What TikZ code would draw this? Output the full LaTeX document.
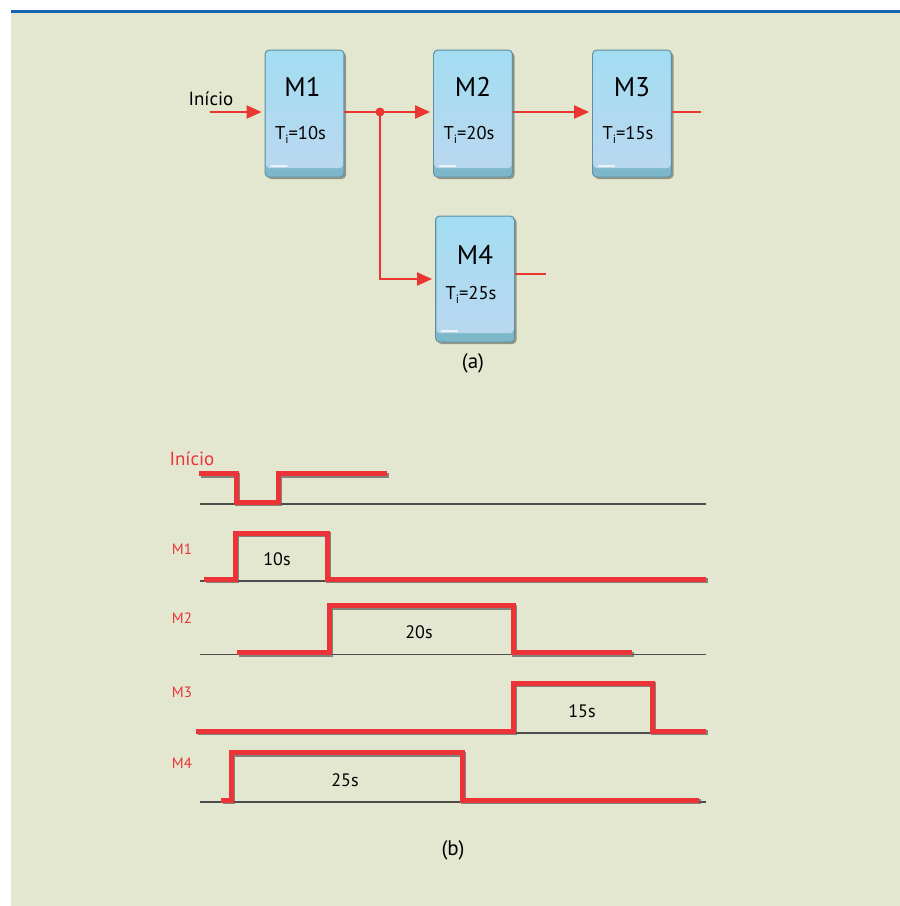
\documentclass[tikz,border=0pt]{standalone}
\usepackage{fontspec}
\setmainfont{PT Sans}
\usetikzlibrary{arrows.meta,calc,shadows}
\definecolor{panel}{HTML}{E3E7D0}
\definecolor{topline}{HTML}{1565B0}
\definecolor{sigred}{HTML}{EC3438}
\definecolor{arrred}{HTML}{EA3530}
\definecolor{boxtop}{HTML}{A2DDF2}
\definecolor{boxbot}{HTML}{BBD7EF}
\definecolor{boxedge}{HTML}{7DB7CA}
\definecolor{boxline}{HTML}{5F8E9E}
\tikzset{
  block/.style={draw=boxline, line width=0.8pt, fill=boxedge, rounded corners=4pt,
    minimum width=79pt, minimum height=127pt, inner sep=0pt,
    drop shadow={shadow xshift=2pt, shadow yshift=-2pt, fill=black, opacity=0.35},
    path picture={
      \shade[top color=boxtop, bottom color=boxbot, rounded corners=3pt]
        ($(path picture bounding box.north west)+(1,1)$) rectangle
        ($(path picture bounding box.south east)+(-1,-9)$);
      \draw[white, opacity=0.7, line width=1.2pt, line cap=round]
        ($(path picture bounding box.south west)+(6,-11)$) -- ++(16,0);
    }},
  bname/.style={font=\fontsize{27}{27}\selectfont, inner sep=0pt},
  btime/.style={font=\fontsize{18.5}{18.5}\selectfont, inner sep=0pt},
  flow/.style={draw=arrred, line width=2pt},
  flowarrow/.style={flow, -{Triangle[length=15pt,width=13pt]}, shorten >=3pt},
  baseln/.style={draw=black!70, line width=1.1pt},
  sig/.style={draw=sigred, line width=5pt, line join=miter},
  sigshadow/.style={draw=black!65, line width=5pt, line join=miter},
  siglabel/.style={text=sigred, inner sep=0pt},
  dur/.style={font=\fontsize{18}{18}\selectfont, inner sep=0pt},
  captxt/.style={font=\fontsize{21}{21}\selectfont, inner sep=0pt}
}
\newcommand{\Ti}[1]{T\raisebox{-4.5pt}{\fontsize{12}{12}\selectfont i}=#1}
\newcommand{\signal}[1]{%
  \draw[sigshadow, opacity=0.7] [shift={(1.6,1.6)}] #1;
  \draw[sig] #1;}
\begin{document}
\begin{tikzpicture}[x=1pt, y=-1pt]
\useasboundingbox (0,0) rectangle (900,906);
\fill[white] (0,0) rectangle (900,906);
\fill[panel] (11,13) rectangle (900,906);
\fill[topline] (11,10) rectangle (900,13.3);

% ---------- (a) block diagram ----------
\node[block] (m1) at (304.5,113.5) {};
\node[block] (m2) at (473,113.5) {};
\node[block] (m3) at (632,113.5) {};
\node[block, minimum height=126pt] (m4) at (475,279) {};

\node[bname] (m1a) at ($(m1.center)+(-2,-26.5)$) {M1};
\node[bname] (m2a) at ($(m2.center)+(0,-26.5)$) {M2};
\node[bname] (m3a) at ($(m3.center)+(0,-26.5)$) {M3};
\node[bname] (m4a) at ($(m4.center)+(0,-24)$) {M4};
\node[btime] (m1b) at ($(m1.center)+(-4,21.5)$) {\Ti{10s}};
\node[btime] (m2b) at ($(m2.center)+(-4,21.5)$) {\Ti{20s}};
\node[btime] (m3b) at ($(m3.center)+(-4,21.5)$) {\Ti{15s}};
\node[btime] (m4b) at ($(m4.center)+(-4,16)$) {\Ti{25s}};

\coordinate (in) at (210,112);
\coordinate (j) at (380,112);
\coordinate (m3o) at (701,112);
\coordinate (m4o) at (546,274);
\node[font=\fontsize{19}{19}\selectfont, inner sep=0pt] (inlbl) at (211,99) {Início};

\draw[flowarrow] (in) -- (in -| m1.west);
\draw[flow] (j -| m1.east) -- (j);
\draw[flowarrow] (j) -- (j -| m2.west);
\draw[flowarrow] (j) |- (m4.west);
\draw[flowarrow] (j -| m2.east) -- (j -| m3.west);
\draw[flow] (m3o -| m3.east) -- (m3o);
\draw[flow] (m4o -| m4.east) -- (m4o);
\fill[arrred] (j) circle (4.5pt);

\node[captxt] (capa) at (473,363) {(a)};

% ---------- (b) timing diagram ----------
\draw[baseln] (200,504) -- (706,504);
\draw[baseln] (200,581) -- (706,581);
\draw[baseln] (200,654.5) -- (706,654.5);
\draw[baseln] (200,733) -- (706,733);
\draw[baseln] (200,802) -- (706,802);

\signal{(199,473.5) -- (236,473.5) -- (236,502) -- (278,502) -- (278,473.5) -- (387,473.5)}
\signal{(204,579) -- (235,579) -- (235,533) -- (327,533) -- (327,579) -- (706,579)}
\signal{(237,652.5) -- (329,652.5) -- (329,605.5) -- (513,605.5) -- (513,652.5) -- (632,652.5)}
\signal{(196,731) -- (513,731) -- (513,683) -- (652,683) -- (652,731) -- (706,731)}
\signal{(221,800) -- (231,800) -- (231,752.5) -- (462,752.5) -- (462,800) -- (699,800)}

\node[siglabel, font=\fontsize{19}{19}\selectfont] (lin) at (192,459) {Início};
\node[siglabel, font=\fontsize{15}{15}\selectfont] (l1) at (182,549) {M1};
\node[siglabel, font=\fontsize{15}{15}\selectfont] (l2) at (182,618) {M2};
\node[siglabel, font=\fontsize{15}{15}\selectfont] (l3) at (182,692) {M3};
\node[siglabel, font=\fontsize{15}{15}\selectfont] (l4) at (182,763) {M4};

\node[dur] (d1) at (277,559) {10s};
\node[dur] (d2) at (419,632) {20s};
\node[dur] (d3) at (582,711) {15s};
\node[dur] (d4) at (345,780) {25s};

\node[captxt] (capb) at (453,850) {(b)};
\end{tikzpicture}
\end{document}
